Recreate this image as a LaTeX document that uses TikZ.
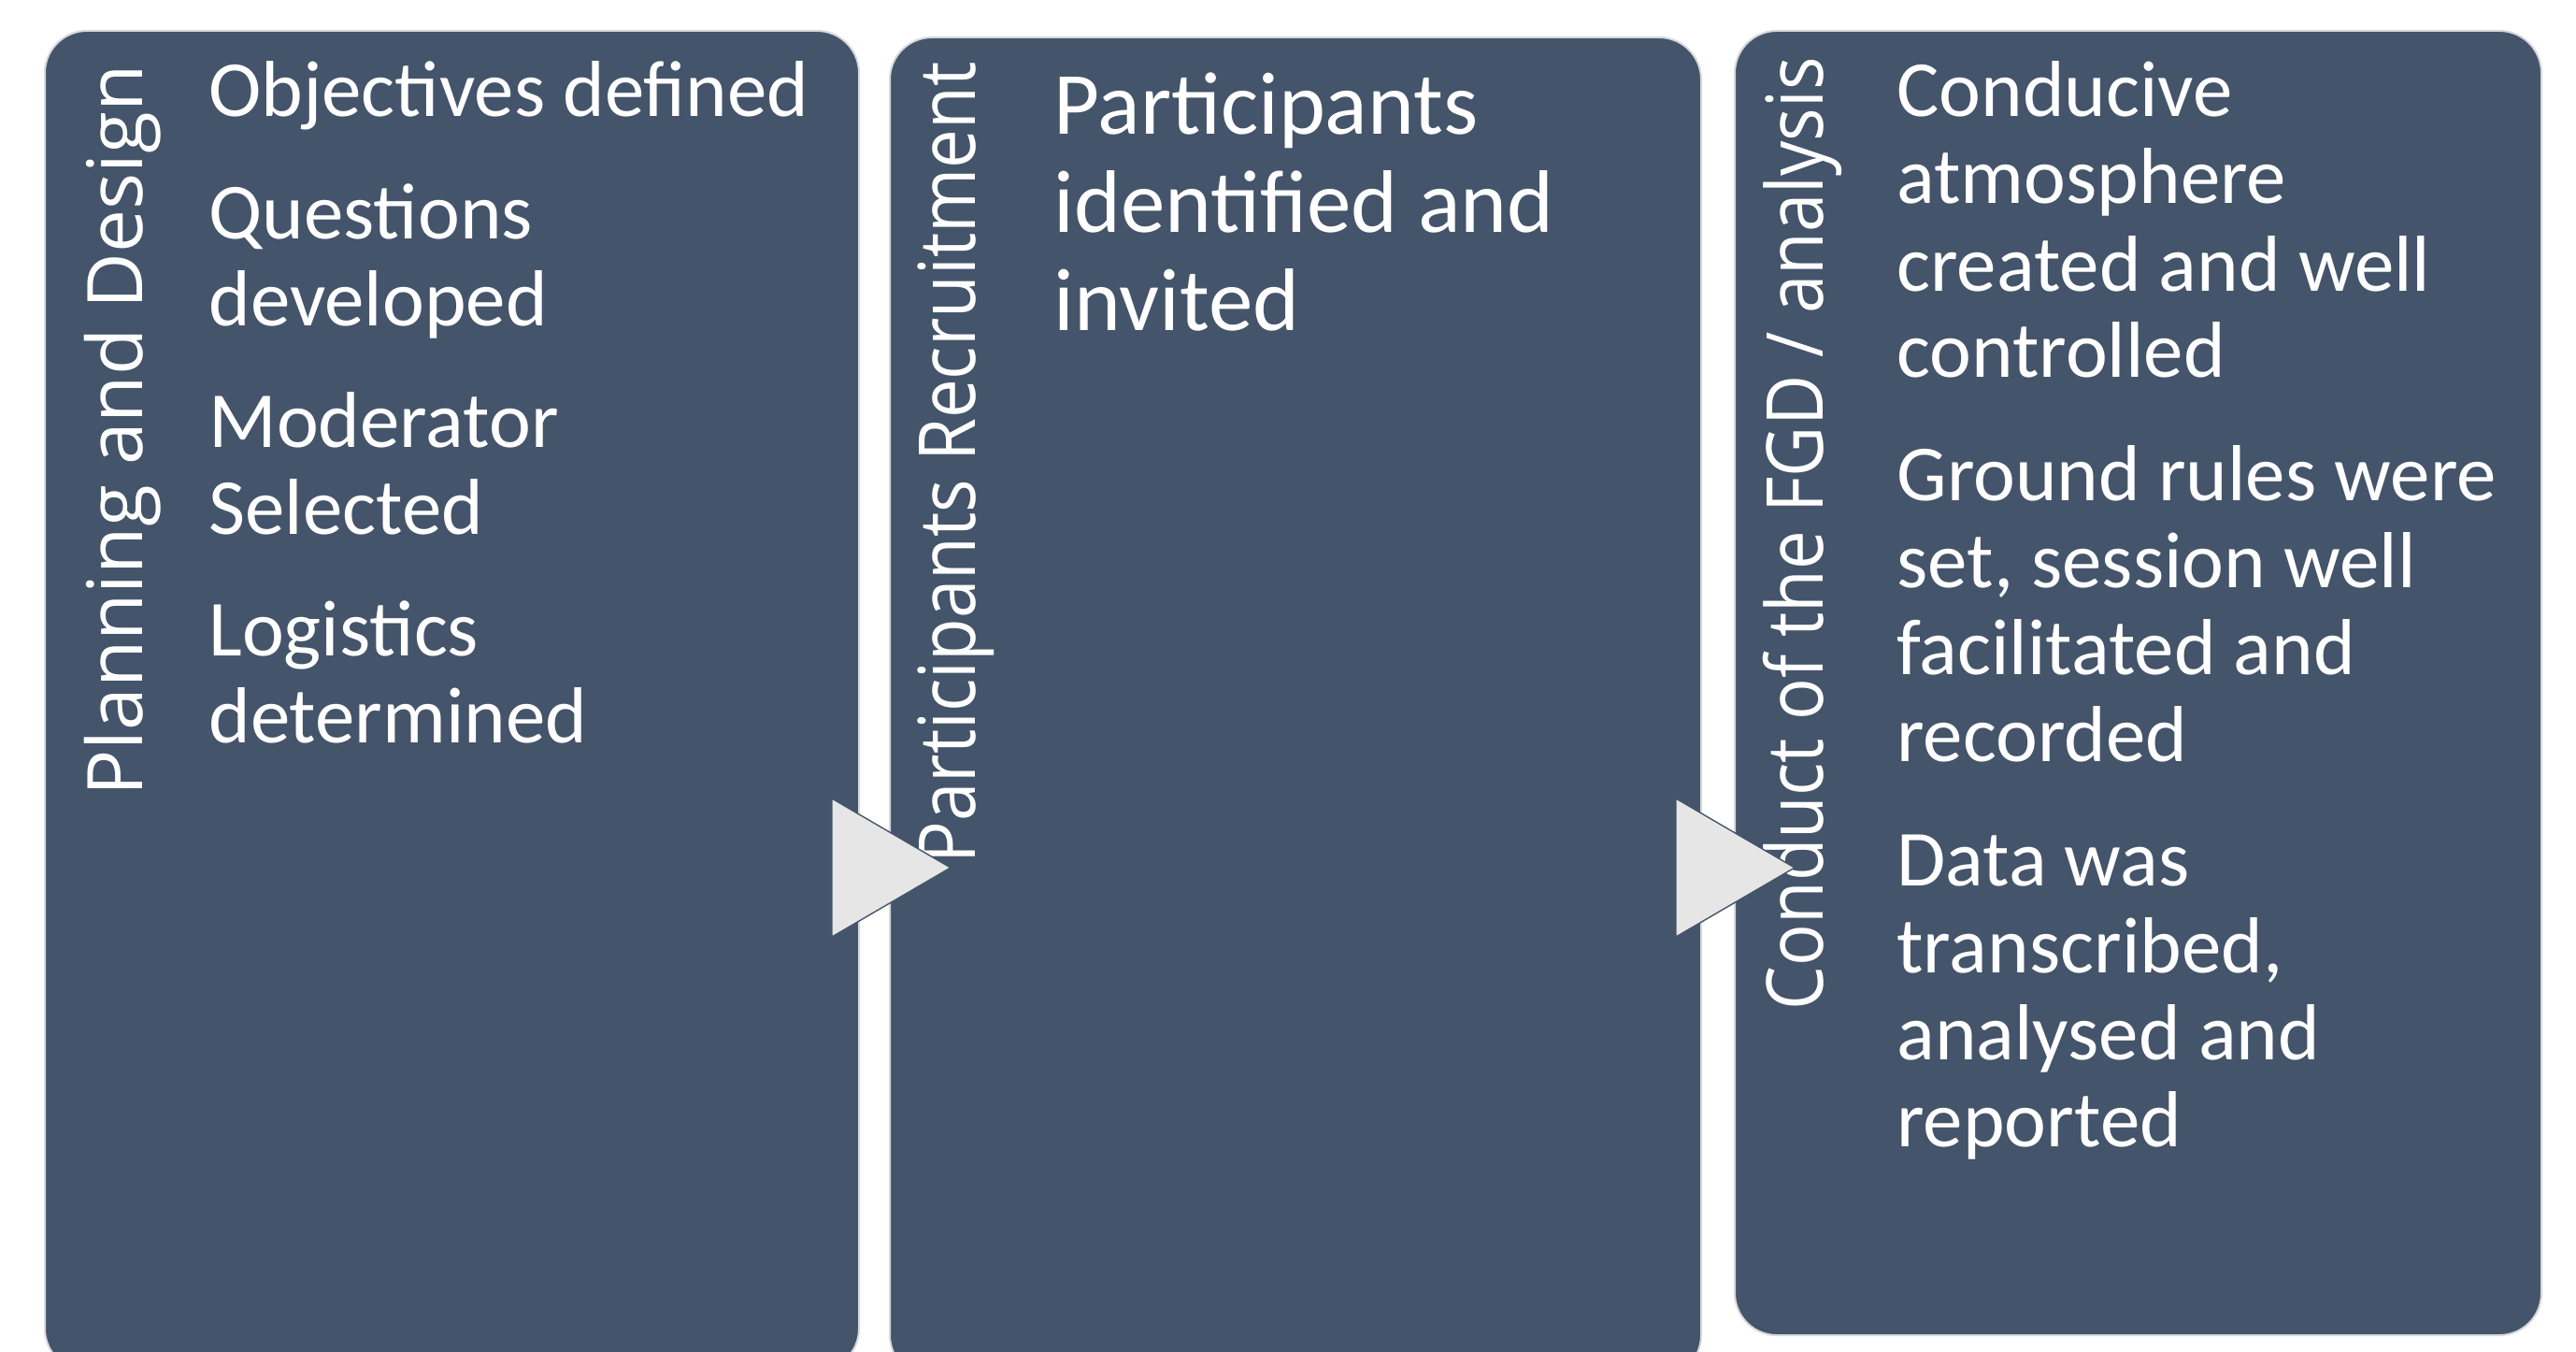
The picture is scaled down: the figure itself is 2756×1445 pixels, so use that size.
\documentclass[tikz,border=0pt]{standalone}
\usepackage{fontspec}
\setmainfont{Carlito}
\newfontfamily\titlefont{Open Sans}
\definecolor{boxcol}{HTML}{44546A}
\definecolor{tricol}{HTML}{E6E6E6}
\definecolor{edgecol}{HTML}{D6D8DC}
\newcommand\mylines[1]{\begin{tabular}[t]{@{}l@{}}#1\end{tabular}}
\newcommand\fittitle[2]{\resizebox{#1}{\height}{#2}}
\tikzset{
  stagebox/.style={fill=boxcol, draw=edgecol, line width=1pt, rounded corners=22.5pt, anchor=north west, inner sep=0pt},
  bodytext/.style={text=white, anchor=base west, inner sep=0pt, font=\fontsize{42.5}{46.5}\selectfont},
  bigtext/.style={text=white, anchor=base west, inner sep=0pt, font=\fontsize{47.5}{52.5}\selectfont},
  titletext/.style={text=white, anchor=base east, rotate=90, inner sep=0pt},
  arrowtri/.style={fill=tricol, draw=boxcol, line width=0.7pt, line join=miter}
}
\begin{document}
\begin{tikzpicture}[x=0.5pt,y=-0.5pt]
\useasboundingbox (0,0) rectangle (2756,1445);
\clip (0,0) rectangle (2756,1445);
\fill[white] (0,0) rectangle (2756,1445);
% boxes
\node[stagebox, minimum width=435.5pt, minimum height=716.5pt] (b1) at (47,32) {};
\node[stagebox, minimum width=434pt, minimum height=716.5pt] (b2) at (951,39) {};
\node[stagebox, minimum width=431.5pt, minimum height=697.5pt] (b3) at (1855,32) {};
% titles
\node[titletext, font=\titlefont\fontsize{41}{46}\selectfont] (t1) at (152,69) {\fittitle{391pt}{Planning and Design}};
\node[titletext, font=\titlefont\fontsize{42}{46}\selectfont] (t2) at (1043,66) {\fittitle{428.5pt}{Participants Recruitment}};
\node[titletext, font=\titlefont\fontsize{42}{46}\selectfont] (t3) at (1950,61) {\fittitle{509.5pt}{Conduct of the FGD / analysis}};
% arrows
\filldraw[arrowtri] (890,854) -- (1017,928) -- (890,1002) -- cycle;
\filldraw[arrowtri] (1793,854) -- (1920,928) -- (1793,1002) -- cycle;
% box 1 items
\node[bodytext] (p1a) at (223,125) {\mylines{Objectives defined}};
\node[bodytext] (p1b) at (223,255) {\mylines{Questions\\developed}};
\node[bodytext] (p1c) at (223,478) {\mylines{Moderator\\Selected}};
\node[bodytext] (p1d) at (223,701) {\mylines{Logistics\\determined}};
% box 2 items
\node[bigtext] (p2a) at (1127,143) {\mylines{Participants\\identified and\\invited}};
% box 3 items
\node[bodytext] (p3a) at (2029,125) {\mylines{Conducive\\atmosphere\\created and well\\controlled}};
\node[bodytext] (p3b) at (2029,535) {\mylines{Ground rules were\\set, session well\\facilitated and\\recorded}};
\node[bodytext] (p3c) at (2029,947) {\mylines{Data was\\transcribed,\\analysed and\\reported}};
\end{tikzpicture}
\end{document}
